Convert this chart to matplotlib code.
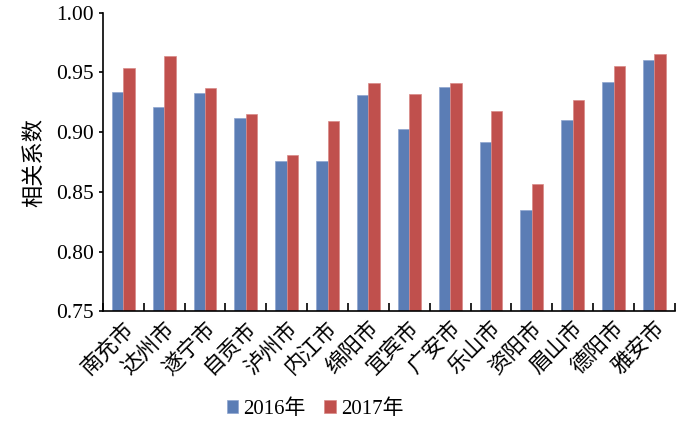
import matplotlib
matplotlib.use("Agg")
import matplotlib.pyplot as plt
import numpy as np

cities = ["南充市", "达州市", "遂宁市", "自贡市", "泸州市", "内江市", "绵阳市",
          "宜宾市", "广安市", "乐山市", "资阳市", "眉山市", "德阳市", "雅安市"]
vals_2016 = [0.934, 0.921, 0.933, 0.912, 0.876, 0.876, 0.931,
             0.903, 0.938, 0.892, 0.835, 0.910, 0.942, 0.960]
vals_2017 = [0.954, 0.964, 0.937, 0.915, 0.881, 0.909, 0.941,
             0.932, 0.941, 0.918, 0.857, 0.927, 0.955, 0.965]
series_labels = ["2016年", "2017年"]
y_ticks = [0.75, 0.80, 0.85, 0.90, 0.95, 1.00]

FONT = ["Liberation Serif", "Noto Sans CJK SC"]
plt.rcParams["font.family"] = FONT

fig = plt.figure(figsize=(7.0, 4.22), dpi=100)
ax = fig.add_axes([0.147, 0.262, 0.817, 0.708])

x = np.arange(len(cities))
w = 0.28
ax.bar(x - w / 2, vals_2016, w, color="#5b7db5", edgecolor="#8fa6cf",
       linewidth=0.5, label=series_labels[0])
ax.bar(x + w / 2, vals_2017, w, color="#c0504d", edgecolor="#d98a88",
       linewidth=0.5, label=series_labels[1])

ax.set_ylim(0.75, 1.00)
ax.set_xlim(-0.5, len(cities) - 0.5)
ax.set_yticks(y_ticks)
ax.set_yticklabels([f"{v:.2f}" for v in y_ticks], fontsize=15.5)
ax.set_ylabel("相关系数", fontsize=16, labelpad=8)

# category boundaries carry the ticks, labels sit under each group
ax.set_xticks(np.arange(len(cities) + 1) - 0.5)
ax.set_xticklabels([])
ax.set_xticks(x, minor=True)
ax.set_xticklabels(cities, minor=True, rotation=45, ha="right",
                   rotation_mode="anchor", fontsize=15.5)
ax.tick_params(axis="x", which="major", direction="in", length=6, width=1.2)
ax.tick_params(axis="x", which="minor", length=0, pad=5)
ax.tick_params(axis="y", direction="out", length=3, width=1.2)

for side in ("top", "right"):
    ax.spines[side].set_visible(False)
for side in ("left", "bottom"):
    ax.spines[side].set_linewidth(1.2)

fig.legend(loc="center", bbox_to_anchor=(0.45, 0.03), ncol=2, frameon=False,
           fontsize=15, handlelength=0.55, handleheight=0.55,
           handletextpad=0.25, columnspacing=0.9)

fig.savefig("out.png", dpi=100)
